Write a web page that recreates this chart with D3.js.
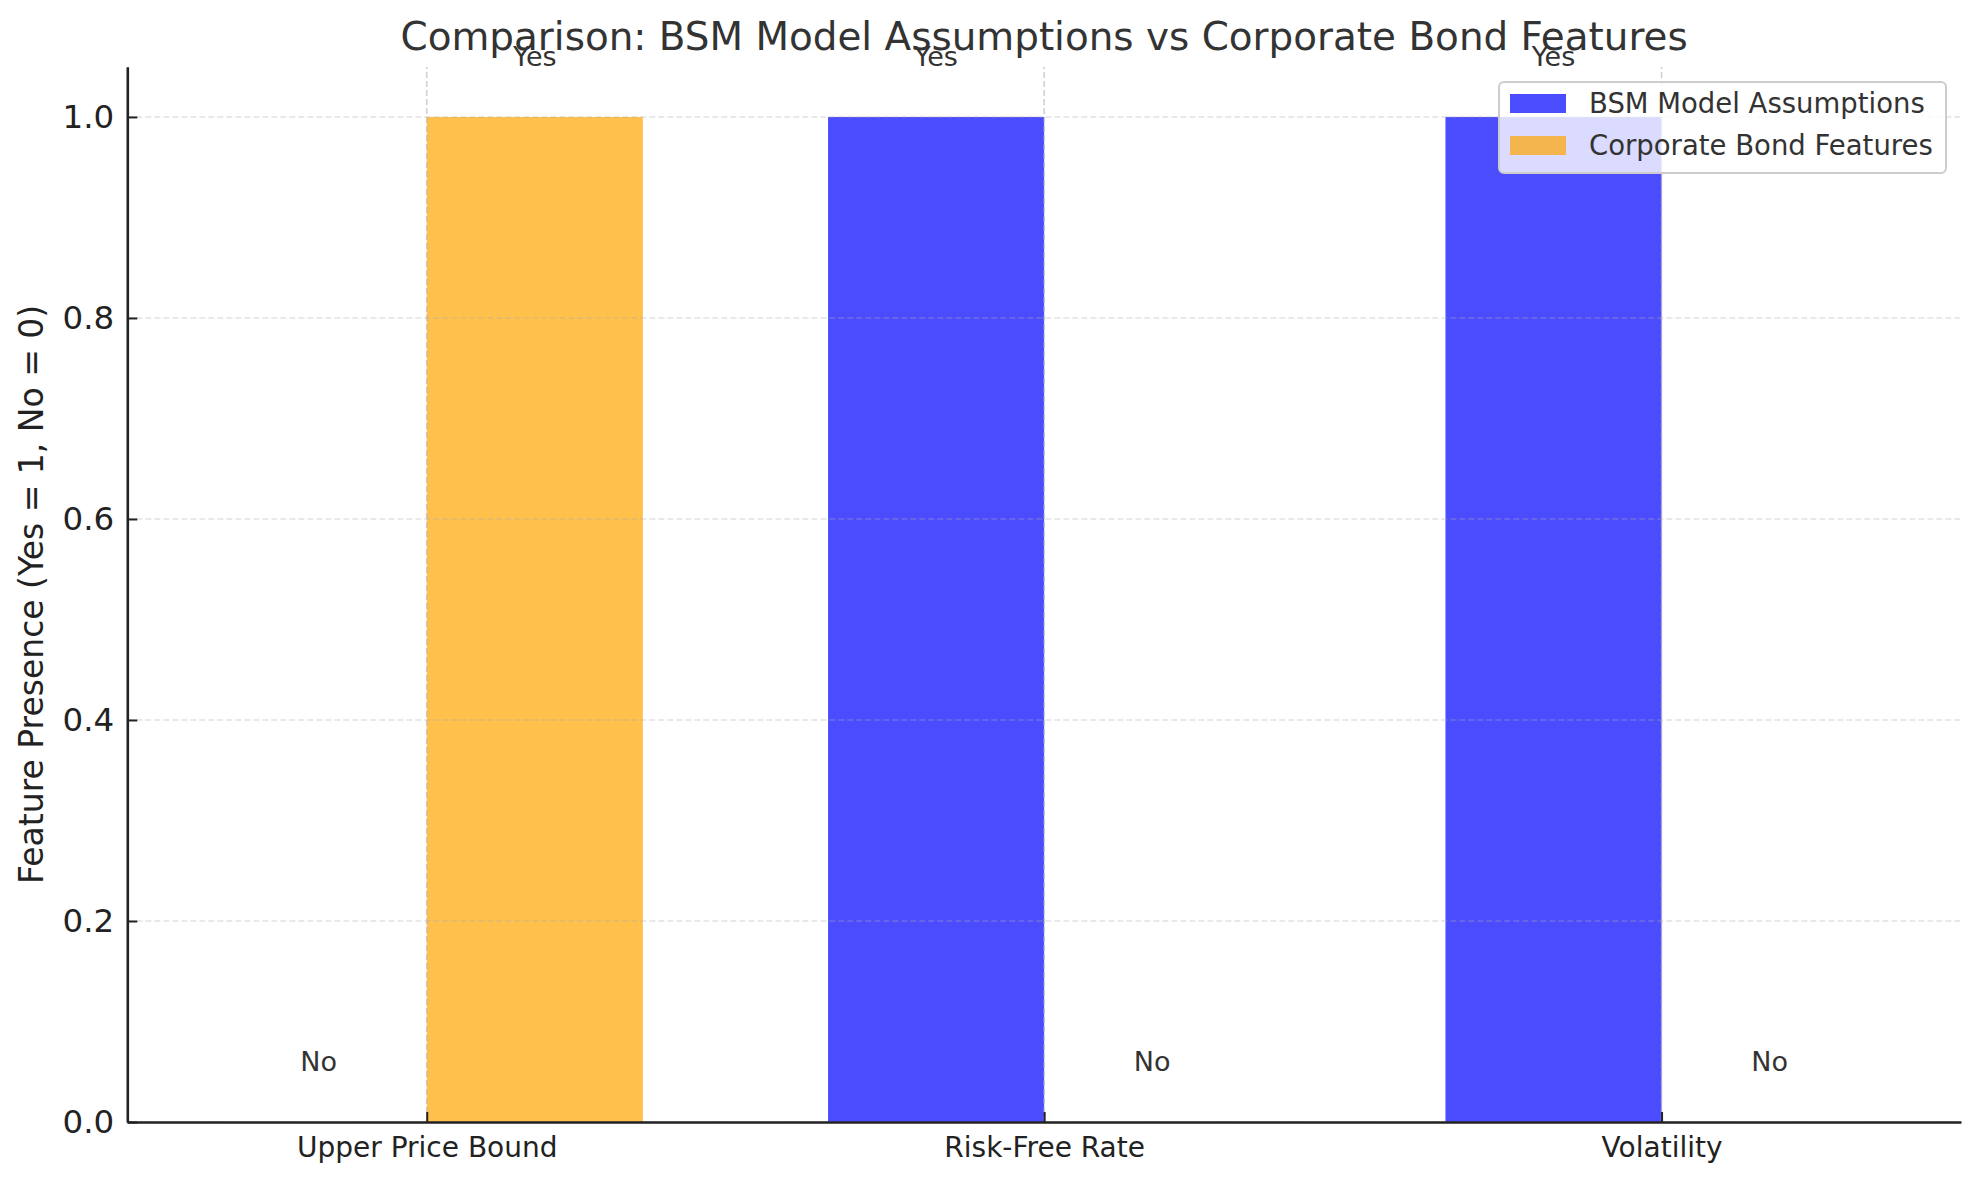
<!DOCTYPE html>
<html>
<head>
<meta charset="utf-8">
<script src="https://cdn.jsdelivr.net/npm/d3@7"></script>
<style>
    body { margin: 0; background: #ffffff; }
    svg { display: block; font-family: 'DejaVu Sans', sans-serif; }
</style>
</head>
<body>
<div id="chart"></div>
<script>
// data
var categories = ['Upper Price Bound', 'Risk-Free Rate', 'Volatility'];
var bsmValues = [0, 1, 1];
var bondValues = [1, 0, 0];
var yTicks = [0.0, 0.2, 0.4, 0.6, 0.8, 1.0];
var seriesNames = ['BSM Model Assumptions', 'Corporate Bond Features'];

var width = 1979, height = 1180;
var margin = { left: 127.3, right: 1979 - 1961, top: 66.7, bottom: 1180 - 1122 };
var barWidth = 0.35;

var svg = d3.select('#chart')
    .append('svg')
    .attr('width', width)
    .attr('height', height);

// x domain like matplotlib: bar extents plus 5% margin
var xMin = -barWidth, xMax = categories.length - 1 + barWidth;
var pad = (xMax - xMin) * 0.05;
var x = d3.scaleLinear()
    .domain([xMin - pad, xMax + pad])
    .range([margin.left, width - margin.right]);

var y = d3.scaleLinear()
    .domain([0, 1.05])
    .range([height - margin.bottom, margin.top]);

var series = [
    { name: seriesNames[0], values: bsmValues, color: 'blue', offset: -barWidth / 2 },
    { name: seriesNames[1], values: bondValues, color: 'orange', offset: barWidth / 2 }
];

// bars
series.forEach(s => {
    svg.append('g')
        .selectAll('rect')
        .data(s.values)
        .join('rect')
        .attr('x', (d, i) => x(i + s.offset - barWidth / 2))
        .attr('width', x(barWidth) - x(0))
        .attr('y', d => y(d))
        .attr('height', d => y(0) - y(d))
        .attr('fill', s.color)
        .attr('fill-opacity', 0.7);
});

// grid on top of bars
svg.append('g')
    .selectAll('line')
    .data(yTicks)
    .join('line')
    .attr('x1', x.range()[0])
    .attr('x2', x.range()[1])
    .attr('y1', d => y(d))
    .attr('y2', d => y(d))
    .attr('stroke', '#b0b0b0')
    .attr('stroke-opacity', 0.35)
    .attr('stroke-width', 1.6)
    .attr('stroke-dasharray', '6,3');

svg.append('g')
    .selectAll('line')
    .data(categories)
    .join('line')
    .attr('x1', (d, i) => x(i))
    .attr('x2', (d, i) => x(i))
    .attr('y1', y.range()[0])
    .attr('y2', y.range()[1])
    .attr('stroke', '#b0b0b0')
    .attr('stroke-opacity', 0.6)
    .attr('stroke-width', 1.6)
    .attr('stroke-dasharray', '6,3');

// Yes / No labels above each bar
series.forEach(s => {
    svg.append('g')
        .selectAll('text')
        .data(s.values)
        .join('text')
        .attr('x', (d, i) => x(i + s.offset))
        .attr('y', d => y(d + 0.05) - 1)
        .attr('text-anchor', 'middle')
        .style('font-size', '27px')
        .style('fill', '#333333')
        .text(d => d === 1 ? 'Yes' : 'No');
});

// axes
var xAxis = d3.axisBottom(x)
    .tickValues(d3.range(categories.length))
    .tickFormat(i => categories[i])
    .tickSizeInner(-10)
    .tickSizeOuter(0)
    .tickPadding(15);

var yAxis = d3.axisLeft(y)
    .tickValues(yTicks)
    .tickFormat(d3.format('.1f'))
    .tickSizeInner(-10)
    .tickSizeOuter(0)
    .tickPadding(13);

var gx = svg.append('g')
    .attr('transform', 'translate(0,' + y(0) + ')')
    .call(xAxis);
gx.select('.domain').attr('stroke', '#222222').attr('stroke-width', 2.6);
gx.selectAll('.tick line').attr('stroke', '#222222').attr('stroke-width', 2);
gx.selectAll('.tick text')
    .style('font-size', '28px')
    .style('fill', '#222222')
    .style('font-family', "'DejaVu Sans', sans-serif");

var gy = svg.append('g')
    .attr('transform', 'translate(' + x.range()[0] + ',0)')
    .call(yAxis);
gy.select('.domain').attr('stroke', '#222222').attr('stroke-width', 2.6);
gy.selectAll('.tick line').attr('stroke', '#222222').attr('stroke-width', 2);
gy.selectAll('.tick text')
    .style('font-size', '32.5px')
    .style('fill', '#222222')
    .style('font-family', "'DejaVu Sans', sans-serif");

// title and y label
svg.append('text')
    .attr('x', (x.range()[0] + x.range()[1]) / 2)
    .attr('y', 49.5)
    .attr('text-anchor', 'middle')
    .style('font-size', '38.9px')
    .style('fill', '#333333')
    .text('Comparison: BSM Model Assumptions vs Corporate Bond Features');

svg.append('text')
    .attr('transform', 'translate(43,' + (y.range()[0] + y.range()[1]) / 2 + ') rotate(-90)')
    .attr('text-anchor', 'middle')
    .style('font-size', '33px')
    .style('fill', '#222222')
    .text('Feature Presence (Yes = 1, No = 0)');

// legend box, top right
var legend = svg.append('g').attr('transform', 'translate(1499,82)');
legend.append('rect')
    .attr('width', 447)
    .attr('height', 91)
    .attr('rx', 5)
    .attr('fill', '#ffffff')
    .attr('fill-opacity', 0.8)
    .attr('stroke', '#cccccc')
    .attr('stroke-width', 2);

var rows = legend.selectAll('.legend-row')
    .data(series)
    .join('g')
    .attr('class', 'legend-row')
    .attr('transform', (d, i) => 'translate(11,' + (12 + i * 42) + ')');

rows.append('rect')
    .attr('width', 56)
    .attr('height', 19)
    .attr('fill', d => d.color)
    .attr('fill-opacity', 0.7);

rows.append('text')
    .attr('x', 79)
    .attr('y', 19)
    .style('font-size', '27.5px')
    .style('fill', '#333333')
    .text(d => d.name);
</script>
</body>
</html>
